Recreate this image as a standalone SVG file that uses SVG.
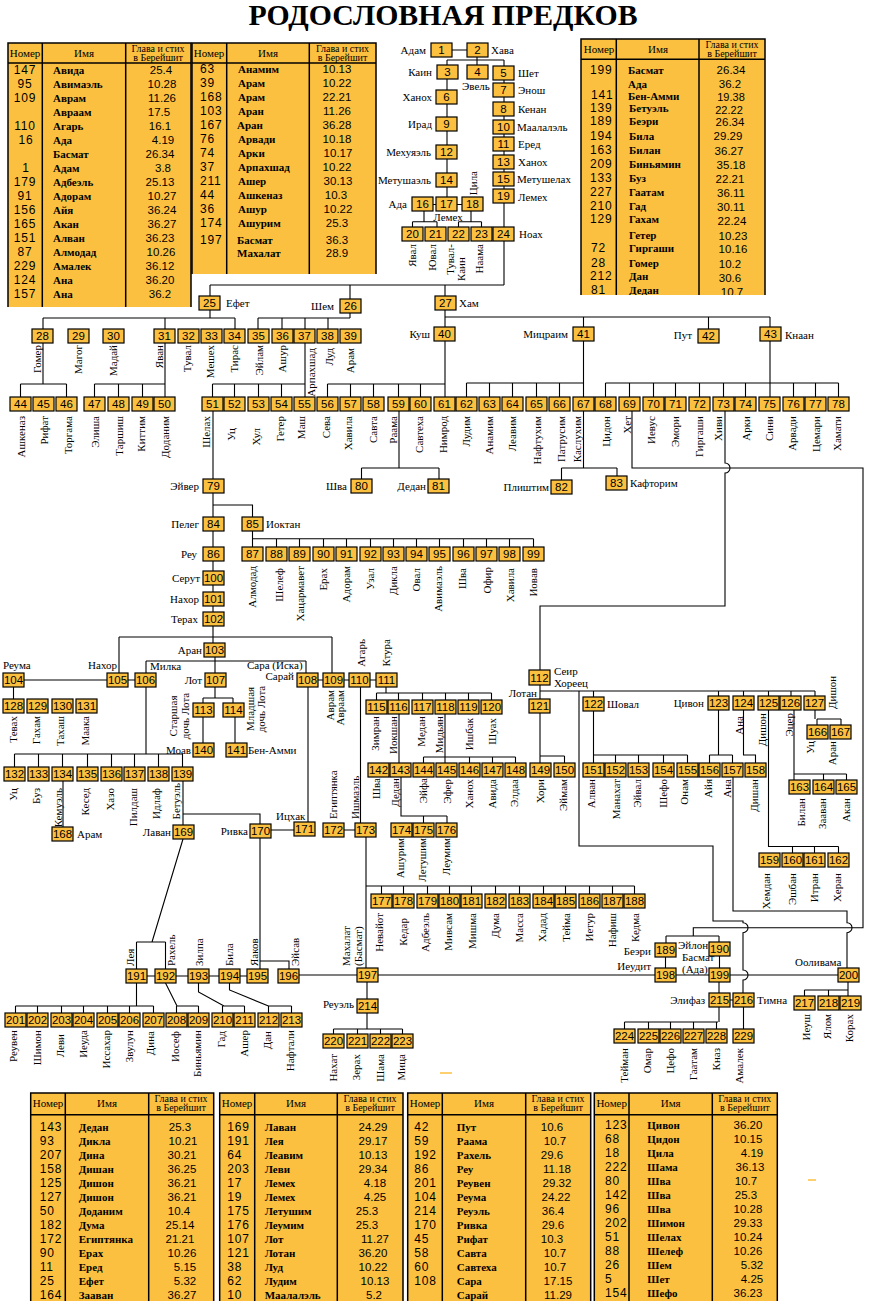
<svg xmlns="http://www.w3.org/2000/svg" width="874" height="1301" viewBox="0 0 874 1301">
<style>
.b{fill:#FBC040;stroke:#000;stroke-width:1.2}
.n{font-family:"Liberation Sans",Arial,sans-serif;font-size:11.5px;text-anchor:middle}
.l{font-family:"Liberation Serif","Times New Roman",serif;font-size:11px}
.r{text-anchor:end}
.m{text-anchor:middle}
#connectors path{fill:none;stroke:#000;stroke-width:1.1}
.tf{fill:#FBC040}
.tl{stroke:#000;stroke-width:1.5;fill:none}
.tn{font-family:"Liberation Sans",Arial,sans-serif;font-size:12px;letter-spacing:0.8px}
.tk{font-family:"Liberation Sans",Arial,sans-serif;font-size:12px;letter-spacing:0.8px;text-anchor:middle}
.tc{font-family:"Liberation Sans",Arial,sans-serif;font-size:11.5px;text-anchor:middle}
.tm{font-family:"Liberation Serif","Times New Roman",serif;font-size:11px;font-weight:bold}
.th{font-family:"Liberation Serif","Times New Roman",serif;font-size:11px;text-anchor:middle}
.th2{font-family:"Liberation Serif","Times New Roman",serif;font-size:10px;text-anchor:middle}
</style>
<defs><clipPath id="trc"><rect x="579" y="37" width="190" height="258"/></clipPath></defs>
<rect width="874" height="1301" fill="#fff"/>
<text x="443" y="25" font-family="Liberation Serif,serif" font-weight="bold" font-size="29" text-anchor="middle" textLength="389" lengthAdjust="spacingAndGlyphs">РОДОСЛОВНАЯ ПРЕДКОВ</text>

<g id="table-tl1">
<rect class="tf" x="8" y="43" width="183" height="264"/>
<path class="tl" d="M8,307V43H191V307M42.3,43V307M125.7,43V307M8,63H191"/>
<text class="th" x="25" y="57">Номер</text><text class="th" x="84" y="57">Имя</text><text class="th2" x="158" y="52">Глава и стих</text><text class="th2" x="158" y="61">в Берейшит</text>
<g class="tk"><text x="25" y="74">147</text><text x="25" y="88">95</text><text x="25" y="102">109</text><text x="25" y="130">110</text><text x="26" y="144">16</text><text x="26" y="172">1</text><text x="25" y="186">179</text><text x="25" y="200">91</text><text x="25" y="214">156</text><text x="25" y="228">165</text><text x="25" y="242">151</text><text x="25" y="256">87</text><text x="25" y="270">229</text><text x="25" y="284">124</text><text x="25" y="298">157</text></g>
<g class="tm"><text x="53" y="74">Авида</text><text x="53" y="88">Авимаэль</text><text x="53" y="102">Аврам</text><text x="53" y="116">Авраам</text><text x="53" y="130">Агарь</text><text x="53" y="144">Ада</text><text x="53" y="158">Басмат</text><text x="53" y="172">Адам</text><text x="53" y="186">Адбеэль</text><text x="53" y="200">Адорам</text><text x="53" y="214">Айя</text><text x="53" y="228">Акан</text><text x="53" y="242">Алван</text><text x="53" y="256">Алмодад</text><text x="53" y="270">Амалек</text><text x="53" y="284">Ана</text><text x="53" y="298">Ана</text></g>
<g class="tc"><text x="161" y="74">25.4</text><text x="162" y="88">10.28</text><text x="162" y="102">11.26</text><text x="159" y="116">17.5</text><text x="160" y="130">16.1</text><text x="163" y="144">4.19</text><text x="160" y="158">26.34</text><text x="163" y="172">3.8</text><text x="160" y="186">25.13</text><text x="162" y="200">10.27</text><text x="162" y="214">36.24</text><text x="162" y="228">36.27</text><text x="160" y="242">36.23</text><text x="161" y="256">10.26</text><text x="160" y="270">36.12</text><text x="160" y="284">36.20</text><text x="160" y="298">36.2</text></g>
</g>

<g id="table-tl2">
<rect class="tf" x="192" y="43" width="184" height="231"/>
<path class="tl" d="M192,274V43H376V274M226.7,43V274M309.3,43V274M192,63H376"/>
<text class="th" x="209" y="57">Номер</text><text class="th" x="268" y="57">Имя</text><text class="th2" x="342.5" y="52">Глава и стих</text><text class="th2" x="342.5" y="61">в Берейшит</text>
<g class="tn"><text x="200" y="73">63</text><text x="200" y="87">39</text><text x="200" y="101">168</text><text x="200" y="115">103</text><text x="200" y="129">167</text><text x="200" y="143">76</text><text x="200" y="157">74</text><text x="200" y="171">37</text><text x="200" y="185">211</text><text x="200" y="199">44</text><text x="200" y="213">36</text><text x="200" y="227">174</text><text x="200" y="244">197</text></g>
<g class="tm"><text x="238" y="73">Анамим</text><text x="238" y="87">Арам</text><text x="238" y="101">Арам</text><text x="238" y="115">Аран</text><text x="237" y="129">Аран</text><text x="238" y="143">Арвади</text><text x="238" y="157">Арки</text><text x="238" y="171">Арпахшад</text><text x="238" y="185">Ашер</text><text x="238" y="199">Ашкеназ</text><text x="238" y="213">Ашур</text><text x="238" y="227">Ашурим</text><text x="237" y="244">Басмат</text><text x="237" y="257">Махалат</text></g>
<g class="tc"><text x="337" y="73">10.13</text><text x="337" y="87">10.22</text><text x="337" y="101">22.21</text><text x="337" y="115">11.26</text><text x="337" y="129">36.28</text><text x="337" y="143">10.18</text><text x="338" y="157">10.17</text><text x="337" y="171">10.22</text><text x="338" y="185">30.13</text><text x="336" y="199">10.3</text><text x="338" y="213">10.22</text><text x="337" y="227">25.3</text><text x="337" y="244">36.3</text><text x="337" y="257">28.9</text></g>
</g>

<g id="table-tr">
<rect class="tf" x="581" y="39" width="184" height="256"/>
<path class="tl" d="M581,295V39H765V295M616.3,39V295M699,39V295M581,59.3H765"/>
<text class="th" x="599" y="53">Номер</text><text class="th" x="658" y="53">Имя</text><text class="th2" x="732" y="48">Глава и стих</text><text class="th2" x="732" y="57">в Берейшит</text>
<g clip-path="url(#trc)">
<g class="tn"><text x="590" y="73.5">199</text><text x="591" y="99">141</text><text x="590" y="111.5">139</text><text x="590" y="125">189</text><text x="590" y="139.5">194</text><text x="590" y="154">163</text><text x="590" y="168">209</text><text x="590" y="182">133</text><text x="590" y="196">227</text><text x="590" y="210">210</text><text x="590" y="223">129</text><text x="591" y="252">72</text><text x="591" y="267">28</text><text x="590" y="280">212</text><text x="591" y="294">81</text></g>
<g class="tm"><text x="628" y="73.5">Басмат</text><text x="628" y="87.5">Ада</text><text x="628" y="100">Бен-Амми</text><text x="629" y="111.5">Бетуэль</text><text x="629" y="125">Беэри</text><text x="629" y="139.5">Била</text><text x="629" y="154">Билан</text><text x="629" y="168">Биньямин</text><text x="629" y="182">Буз</text><text x="629" y="196">Гаатам</text><text x="629" y="210">Гад</text><text x="629" y="223">Гахам</text><text x="629" y="239">Гетер</text><text x="629" y="252">Гиргаши</text><text x="629" y="267">Гомер</text><text x="629" y="280">Дан</text><text x="629" y="294">Дедан</text></g>
<g class="tc"><text x="731" y="74">26.34</text><text x="730" y="88">36.2</text><text x="731" y="101" font-size="11">19.38</text><text x="729" y="113.5" font-size="11">22.22</text><text x="730" y="126">26.34</text><text x="728" y="140">29.29</text><text x="729" y="155">36.27</text><text x="731" y="169">35.18</text><text x="730" y="183">22.21</text><text x="731" y="197">36.11</text><text x="731" y="211">30.11</text><text x="732" y="225">22.24</text><text x="733" y="240">10.23</text><text x="733" y="253">10.16</text><text x="730" y="268">10.2</text><text x="730" y="282">30.6</text><text x="732" y="296">10.7</text></g>
</g>
</g>

<g id="table-b1">
<rect class="tf" x="30.7" y="1093" width="183" height="208"/>
<path class="tl" d="M30.7,1301V1093H213.7V1301M65.3,1093V1301M148.7,1093V1301M30.7,1114.7H213.7"/>
<text class="th" x="48" y="1107">Номер</text><text class="th" x="107" y="1107">Имя</text><text class="th2" x="181" y="1102">Глава и стих</text><text class="th2" x="181" y="1111">в Берейшит</text>
<g class="tn"><text x="39.7" y="1131">143</text><text x="39.7" y="1145">93</text><text x="39.7" y="1159">207</text><text x="39.7" y="1173">158</text><text x="39.7" y="1187">125</text><text x="39.7" y="1201">127</text><text x="39.7" y="1215">50</text><text x="39.7" y="1229">182</text><text x="39.7" y="1243">172</text><text x="39.7" y="1257">90</text><text x="39.7" y="1271">11</text><text x="39.7" y="1285">25</text><text x="39.7" y="1299">164</text></g>
<g class="tm"><text x="78.7" y="1131">Дедан</text><text x="78.7" y="1145">Дикла</text><text x="78.7" y="1159">Дина</text><text x="78.7" y="1173">Дишан</text><text x="78.7" y="1187">Дишон</text><text x="78.7" y="1201">Дишон</text><text x="78.7" y="1215">Доданим</text><text x="78.7" y="1229">Дума</text><text x="78.7" y="1243">Египтянка</text><text x="78.7" y="1257">Ерах</text><text x="78.7" y="1271">Еред</text><text x="78.7" y="1285">Ефет</text><text x="78.7" y="1299">Зааван</text></g>
<g class="tc"><text x="180" y="1131">25.3</text><text x="183" y="1145">10.21</text><text x="182" y="1159">30.21</text><text x="182" y="1173">36.25</text><text x="182" y="1187">36.21</text><text x="182" y="1201">36.21</text><text x="179" y="1215">10.4</text><text x="180" y="1229">25.14</text><text x="180" y="1243">21.21</text><text x="182" y="1257">10.26</text><text x="185" y="1271">5.15</text><text x="185" y="1285">5.32</text><text x="182" y="1299">36.27</text></g>
</g>

<g id="table-b2">
<rect class="tf" x="219.7" y="1093" width="183.3" height="208"/>
<path class="tl" d="M219.7,1301V1093H403V1301M254.7,1093V1301M337.3,1093V1301M219.7,1114.7H403"/>
<text class="th" x="237" y="1107">Номер</text><text class="th" x="296" y="1107">Имя</text><text class="th2" x="370" y="1102">Глава и стих</text><text class="th2" x="370" y="1111">в Берейшит</text>
<g class="tn"><text x="227.3" y="1131">169</text><text x="227.3" y="1145">191</text><text x="227.3" y="1159">64</text><text x="227.3" y="1173">203</text><text x="227.3" y="1187">17</text><text x="227.3" y="1201">19</text><text x="227.3" y="1215">175</text><text x="227.3" y="1229">176</text><text x="227.3" y="1243">107</text><text x="227.3" y="1257">121</text><text x="227.3" y="1271">38</text><text x="227.3" y="1285">62</text><text x="227.3" y="1299">10</text></g>
<g class="tm"><text x="264.7" y="1131">Лаван</text><text x="264.7" y="1145">Лея</text><text x="264.7" y="1159">Леавим</text><text x="264.7" y="1173">Леви</text><text x="264.7" y="1187">Лемех</text><text x="264.7" y="1201">Лемех</text><text x="264.7" y="1215">Летушим</text><text x="264.7" y="1229">Леумим</text><text x="264.7" y="1243">Лот</text><text x="264.7" y="1257">Лотан</text><text x="264.7" y="1271">Луд</text><text x="264.7" y="1285">Лудим</text><text x="264.7" y="1299">Маалалэль</text></g>
<g class="tc"><text x="373" y="1131">24.29</text><text x="373" y="1145">29.17</text><text x="373" y="1159">10.13</text><text x="373" y="1173">29.34</text><text x="375" y="1187">4.18</text><text x="375" y="1201">4.25</text><text x="367" y="1215">25.3</text><text x="367" y="1229">25.3</text><text x="375" y="1243">11.27</text><text x="373" y="1257">36.20</text><text x="373" y="1271">10.22</text><text x="375" y="1285">10.13</text><text x="374" y="1299">5.2</text></g>
</g>

<g id="table-b3">
<rect class="tf" x="407.7" y="1093" width="183" height="208"/>
<path class="tl" d="M407.7,1301V1093H590.7V1301M442.3,1093V1301M525.7,1093V1301M407.7,1114.7H590.7"/>
<text class="th" x="425" y="1107">Номер</text><text class="th" x="484" y="1107">Имя</text><text class="th2" x="558" y="1102">Глава и стих</text><text class="th2" x="558" y="1111">в Берейшит</text>
<g class="tn"><text x="414.3" y="1131">42</text><text x="414.3" y="1145">59</text><text x="414.3" y="1159">192</text><text x="414.3" y="1173">86</text><text x="414.3" y="1187">201</text><text x="414.3" y="1201">104</text><text x="414.3" y="1215">214</text><text x="414.3" y="1229">170</text><text x="414.3" y="1243">45</text><text x="414.3" y="1257">58</text><text x="414.3" y="1271">60</text><text x="414.3" y="1285">108</text></g>
<g class="tm"><text x="456.7" y="1131">Пут</text><text x="456.7" y="1145">Раама</text><text x="456.7" y="1159">Рахель</text><text x="456.7" y="1173">Реу</text><text x="456.7" y="1187">Реувен</text><text x="456.7" y="1201">Реума</text><text x="456.7" y="1215">Реуэль</text><text x="456.7" y="1229">Ривка</text><text x="456.7" y="1243">Рифат</text><text x="456.7" y="1257">Савта</text><text x="456.7" y="1271">Савтеха</text><text x="456.7" y="1285">Сара</text><text x="456.7" y="1299">Сарай</text></g>
<g class="tc"><text x="552" y="1131">10.6</text><text x="555" y="1145">10.7</text><text x="552" y="1159">29.6</text><text x="557" y="1173">11.18</text><text x="557" y="1187">29.32</text><text x="556" y="1201">24.22</text><text x="553" y="1215">36.4</text><text x="553" y="1229">29.6</text><text x="552" y="1243">10.3</text><text x="555" y="1257">10.7</text><text x="555" y="1271">10.7</text><text x="558" y="1285">17.15</text><text x="558" y="1299">11.29</text></g>
</g>

<g id="table-b4">
<rect class="tf" x="594.3" y="1093" width="183" height="208"/>
<path class="tl" d="M594.3,1301V1093H777.3V1301M629,1093V1301M712.3,1093V1301M594.3,1114.7H777.3"/>
<text class="th" x="611.7" y="1107">Номер</text><text class="th" x="670.7" y="1107">Имя</text><text class="th2" x="744.8" y="1102">Глава и стих</text><text class="th2" x="744.8" y="1111">в Берейшит</text>
<g class="tn"><text x="605" y="1129">123</text><text x="605" y="1143">68</text><text x="605" y="1157">18</text><text x="605" y="1171">222</text><text x="605" y="1185">80</text><text x="605" y="1199">142</text><text x="605" y="1213">96</text><text x="605" y="1227">202</text><text x="605" y="1241">51</text><text x="605" y="1255">88</text><text x="605" y="1269">26</text><text x="605" y="1283">5</text><text x="605" y="1297">154</text></g>
<g class="tm"><text x="647.3" y="1129">Цивон</text><text x="647.3" y="1143">Цидон</text><text x="647.3" y="1157">Цила</text><text x="647.3" y="1171">Шама</text><text x="647.3" y="1185">Шва</text><text x="647.3" y="1199">Шва</text><text x="647.3" y="1213">Шва</text><text x="647.3" y="1227">Шимон</text><text x="647.3" y="1241">Шелах</text><text x="647.3" y="1255">Шелеф</text><text x="647.3" y="1269">Шем</text><text x="647.3" y="1283">Шет</text><text x="647.3" y="1297">Шефо</text></g>
<g class="tc"><text x="748" y="1129">36.20</text><text x="748" y="1143">10.15</text><text x="752" y="1157">4.19</text><text x="750" y="1171">36.13</text><text x="746" y="1185">10.7</text><text x="746" y="1199">25.3</text><text x="748" y="1213">10.28</text><text x="748" y="1227">29.33</text><text x="748" y="1241">10.24</text><text x="748" y="1255">10.26</text><text x="752" y="1269">5.32</text><text x="752" y="1283">4.25</text><text x="748" y="1297">36.23</text></g>
</g>
<path d="M440,1073H452M808,1180H816" stroke="#FBC040" stroke-width="1.5"/>

<g id="connectors">
<path d="M452,50H467M477,57V60M447,60H504M447,60V65M477,60V65M447,79V197M504,60V227M432,204.5H462M424,211V221.7M412.5,221.7H437M412.5,221.7V227M437,221.7V227M471,211V221.7M458.5,221.7H481.5M458.5,221.7V227M481.5,221.7V227M504,241V285M210,285H504M210,285V296M350,285V299M445,285V397"/>
<path d="M210,310V318M43,318H235M43,318V329M165,318V329M235,318V329M350,313V318M258,318H350M258,318V329M282,318V329M305,318V329M328,318V329M445,317H770M583.5,317V327M708.5,317V329M770,317V327"/>
<path d="M43,343V384M20.5,384H66.5M20.5,384V397M66.5,384V397M165,343V397M94.5,384H165M94.5,384V397M118.5,384V397M142.5,384V397M305,343V397M212.5,384H305M212.5,384V397M234.5,384V397M258.5,384V397M281.5,384V397M327.5,384H445M327.5,384V397M350.5,384V397M373.5,384V397M398.5,384V397M420.5,384V397"/>
<path d="M583.5,341V397M466.5,383H583.5M466.5,383V397M489.5,383V397M512.5,383V397M536.5,383V397M559.5,383V397M770,341V397M605.5,383H838.5M605.5,383V397M629.5,383V397M653.5,383V397M675.5,383V397M699.5,383V397M723.5,383V397M745.5,383V397M793.5,383V397M815.5,383V397M838.5,383V397"/>
<path d="M213,411V479M399,411V468M361.5,468H439M361.5,468V479M439,468V479M583.5,411V468M561.5,468H617M561.5,468V480M617,468V476"/>
<path d="M632,411V468H863V927.7H693.3V936M666,936H719M666,936V943M719,936V942"/>
<path d="M725,411V463A5,5 0 0 1 725,473V606H540V670"/>
<path d="M213,493V612M213,505H252.5V547M252.5,538.7H533.5M276.5,538.7V547M299.5,538.7V547M323.5,538.7V547M346.5,538.7V547M370.5,538.7V547M393.5,538.7V547M416.5,538.7V547M439.5,538.7V547M463.5,538.7V547M486.5,538.7V547M509.5,538.7V547M533.5,538.7V547"/>
<path d="M213,626V643M119,637H332M119,637V673M332,637V673M215,657V673M146,661H306M146,661V673M306,661V673M24,680H107M128,680H135M318,680H323M344,680H349M370,680H376M13.5,687V699M215,687V698M203,698H233M203,698V703M233,698V703M203,717V743M235,717V743"/>
<path d="M146,687V754M14.5,754H182.5M14.5,754V767M38.5,754V767M62.5,754V767M87.5,754V767M111.5,754V767M134.5,754V767M158.5,754V767M182.5,754V767M63,781V827M183,781V825M183,814H260V824M271,830H294M308,687V822M360.5,687V823M344,830H355"/>
<path d="M366,837V968M366,886H634.5M381.5,886V894M403.5,886V894M427.5,886V894M449.5,886V894M471.5,886V894M495.5,886V894M519.5,886V894M543.5,886V894M565.5,886V894M589.5,886V894M612.5,886V894M634.5,886V894"/>
<path d="M386,687V693M376.5,693H491.5M376.5,693V700M398.5,693V700M422.5,693V700M445.5,693V700M468.5,693V700M491.5,693V700M399,714V763M401,777V816H447M423.5,816V823M447,816V823M445,714V763M423.5,757H515.5M423.5,757V763M469.5,757V763M492.5,757V763M515.5,757V763"/>
<path d="M540,685V699M540,691H815M593.5,691V697M718.5,691V696M743.5,691V696M768.5,691V696M791,691V696M815,691V696"/>
<path d="M579,691V846H713V921H743V922.7A5,5 0 0 1 743,932.7V970A5,5 0 0 1 743,980V993"/>
<path d="M540,713V756H564.5M540,756V763M564.5,756V763M593.5,711V755H687.5M593.5,755V763M615.5,755V763M638.5,755V763M663.5,755V763M687.5,755V763M718.5,710V755M709.5,755H732.5M709.5,755V763M732.5,755V763M743.5,710V755H755.5V763"/>
<path d="M733,777V911H847V922.7A5,5 0 0 1 847,932.7V968"/>
<path d="M768.5,710V846.5H838.5M792.5,846.5V853M814.5,846.5V853M838.5,846.5V853M794,710V780M794,774H846.5M823.5,774V780M846.5,774V780M815,710V719M817,719H841M817,719V725M841,719V725"/>
<path d="M183,839L152,942M136.5,942H165.5M136.5,942V969M165.5,942V969M147,976H155M176,976H188M209,976H219M240,976H247M299,975H357M260,838V969M260,961H289V969"/>
<path d="M136.5,983V1006M15.5,1006H153.5M15.5,1006V1013M37.5,1006V1013M61.5,1006V1013M83.5,1006V1013M107.5,1006V1013M129.5,1006V1013M153.5,1006V1013M165.5,983L177,1006M176.5,1006H198.5M176.5,1006V1013M198.5,1006V1013M198.5,983V992L224,1006M222.5,1006H244.5M222.5,1006V1013M244.5,1006V1013M229.5,983V990L268.5,1006M268.5,1006H291.5M268.5,1006V1013M291.5,1006V1013"/>
<path d="M367,982V999M367,1013V1029M333.5,1029H402.5M333.5,1029V1034M357.5,1029V1034M380.5,1029V1034M402.5,1029V1034"/>
<path d="M378,975H655M676,975H709M730,975H838M665.5,957V968M719.5,956V968M719,982V993M730,1000H733M719,1007V1022M624.5,1022H718M624.5,1022V1029M648.5,1022V1029M670.5,1022V1029M693.5,1022V1029M716.5,1022V1029M743.5,1007V1029M848,982V996M804.5,990H848M804.5,990V996M828.5,990V996"/>
</g>

<g id="n1"><rect class="b" x="431" y="43" width="21" height="14"/><text class="n" x="441.5" y="54">1</text><text class="l r" x="426" y="54">Адам</text></g>
<g id="n2"><rect class="b" x="467" y="43" width="21" height="14"/><text class="n" x="477.5" y="54">2</text><text class="l" x="491" y="54">Хава</text></g>
<g id="n3"><rect class="b" x="437" y="65" width="21" height="14"/><text class="n" x="447.5" y="76">3</text><text class="l r" x="432" y="76">Каин</text></g>
<g id="n4"><rect class="b" x="467" y="65" width="21" height="14"/><text class="n" x="477.5" y="76">4</text><text class="l" x="462" y="90">Эвель</text></g>
<g id="n5"><rect class="b" x="493" y="66" width="21" height="14"/><text class="n" x="503.5" y="77">5</text><text class="l" x="518" y="77">Шет</text></g>
<g id="n6"><rect class="b" x="436" y="90" width="21" height="14"/><text class="n" x="446.5" y="101">6</text><text class="l r" x="432" y="101">Ханох</text></g>
<g id="n7"><rect class="b" x="493" y="83" width="21" height="14"/><text class="n" x="503.5" y="94">7</text><text class="l" x="518" y="94">Энош</text></g>
<g id="n8"><rect class="b" x="493" y="102" width="21" height="14"/><text class="n" x="503.5" y="113">8</text><text class="l" x="518" y="113">Кенан</text></g>
<g id="n9"><rect class="b" x="436" y="117" width="21" height="14"/><text class="n" x="446.5" y="128">9</text><text class="l r" x="432" y="128">Ирад</text></g>
<g id="n10"><rect class="b" x="493" y="120" width="21" height="14"/><text class="n" x="503.5" y="131">10</text><text class="l" x="517" y="131">Маалалэль</text></g>
<g id="n11"><rect class="b" x="493" y="137" width="21" height="14"/><text class="n" x="503.5" y="148">11</text><text class="l" x="518" y="148">Еред</text></g>
<g id="n12"><rect class="b" x="436" y="145" width="21" height="14"/><text class="n" x="446.5" y="156">12</text><text class="l r" x="431" y="156">Мехуяэль</text></g>
<g id="n13"><rect class="b" x="493" y="155" width="21" height="14"/><text class="n" x="503.5" y="166">13</text><text class="l" x="518" y="166">Ханох</text></g>
<g id="n14"><rect class="b" x="436" y="173" width="21" height="14"/><text class="n" x="446.5" y="184">14</text><text class="l r" x="431" y="184">Метушаэль</text></g>
<g id="n15"><rect class="b" x="493" y="172" width="21" height="14"/><text class="n" x="503.5" y="183">15</text><text class="l" x="517" y="183">Метушелах</text></g>
<g id="n16"><rect class="b" x="412" y="197" width="21" height="14"/><text class="n" x="422.5" y="208">16</text><text class="l r" x="407" y="208">Ада</text></g>
<g id="n17"><rect class="b" x="436" y="197" width="21" height="14"/><text class="n" x="446.5" y="208">17</text><text class="l m" x="448" y="221">Лемех</text></g>
<g id="n18"><rect class="b" x="462" y="197" width="21" height="14"/><text class="n" x="472.5" y="208">18</text><text class="l r" transform="translate(476.5,171) rotate(-90)">Цила</text></g>
<g id="n19"><rect class="b" x="493" y="189" width="21" height="14"/><text class="n" x="503.5" y="200">19</text><text class="l" x="518" y="201">Лемех</text></g>
<g id="n20"><rect class="b" x="402" y="227" width="21" height="14"/><text class="n" x="412.5" y="238">20</text><text class="l r" transform="translate(415.5,244) rotate(-90)">Явал</text></g>
<g id="n21"><rect class="b" x="425" y="227" width="21" height="14"/><text class="n" x="435.5" y="238">21</text><text class="l r" transform="translate(435.5,244) rotate(-90)">Ювал</text></g>
<g id="n22"><rect class="b" x="448" y="227" width="21" height="14"/><text class="n" x="458.5" y="238">22</text><text class="l r" transform="translate(453.5,244) rotate(-90)">Тувал-</text><text class="l" transform="translate(465,281) rotate(-90)">Каин</text></g>
<g id="n23"><rect class="b" x="471" y="227" width="21" height="14"/><text class="n" x="481.5" y="238">23</text><text class="l r" transform="translate(483,244) rotate(-90)">Наама</text></g>
<g id="n24"><rect class="b" x="493" y="227" width="21" height="14"/><text class="n" x="503.5" y="238">24</text><text class="l" x="519" y="238">Ноах</text></g>
<g id="n25"><rect class="b" x="199" y="296" width="21" height="14"/><text class="n" x="209.5" y="307">25</text><text class="l" x="226" y="307">Ефет</text></g>
<g id="n26"><rect class="b" x="340" y="299" width="21" height="14"/><text class="n" x="350.5" y="310">26</text><text class="l r" x="334" y="310">Шем</text></g>
<g id="n27"><rect class="b" x="435" y="296" width="21" height="14"/><text class="n" x="445.5" y="307">27</text><text class="l" x="459" y="307">Хам</text></g>
<g id="n28"><rect class="b" x="32" y="329" width="21" height="14"/><text class="n" x="42.5" y="340">28</text><text class="l r" transform="translate(40.5,345) rotate(-90)">Гомер</text></g>
<g id="n29"><rect class="b" x="68" y="329" width="21" height="14"/><text class="n" x="78.5" y="340">29</text><text class="l r" transform="translate(81.5,345) rotate(-90)">Магог</text></g>
<g id="n30"><rect class="b" x="103" y="329" width="21" height="14"/><text class="n" x="113.5" y="340">30</text><text class="l r" transform="translate(116.5,345) rotate(-90)">Мадай</text></g>
<g id="n31"><rect class="b" x="154" y="329" width="21" height="14"/><text class="n" x="164.5" y="340">31</text><text class="l r" transform="translate(162.5,345) rotate(-90)">Яван</text></g>
<g id="n32"><rect class="b" x="178" y="329" width="21" height="14"/><text class="n" x="188.5" y="340">32</text><text class="l r" transform="translate(190.5,345) rotate(-90)">Тувал</text></g>
<g id="n33"><rect class="b" x="201" y="329" width="21" height="14"/><text class="n" x="211.5" y="340">33</text><text class="l r" transform="translate(214,345) rotate(-90)">Мешех</text></g>
<g id="n34"><rect class="b" x="224" y="329" width="21" height="14"/><text class="n" x="234.5" y="340">34</text><text class="l r" transform="translate(237.5,345) rotate(-90)">Тирас</text></g>
<g id="n35"><rect class="b" x="248" y="329" width="21" height="14"/><text class="n" x="258.5" y="340">35</text><text class="l r" transform="translate(262.5,345) rotate(-90)">Эйлам</text></g>
<g id="n36"><rect class="b" x="272" y="329" width="21" height="14"/><text class="n" x="282.5" y="340">36</text><text class="l r" transform="translate(285.5,345) rotate(-90)">Ашур</text></g>
<g id="n37"><rect class="b" x="294" y="329" width="21" height="14"/><text class="n" x="304.5" y="340">37</text><text class="l r" transform="translate(314.5,348) rotate(-90)">Арпахшад</text></g>
<g id="n38"><rect class="b" x="317" y="329" width="21" height="14"/><text class="n" x="327.5" y="340">38</text><text class="l r" transform="translate(333,348) rotate(-90)">Луд</text></g>
<g id="n39"><rect class="b" x="340" y="329" width="21" height="14"/><text class="n" x="350.5" y="340">39</text><text class="l r" transform="translate(353.5,348) rotate(-90)">Арам</text></g>
<g id="n40"><rect class="b" x="434" y="327" width="21" height="14"/><text class="n" x="444.5" y="338">40</text><text class="l r" x="430" y="338">Куш</text></g>
<g id="n41"><rect class="b" x="573" y="327" width="21" height="14"/><text class="n" x="583.5" y="338">41</text><text class="l r" x="568" y="338">Мицраим</text></g>
<g id="n42"><rect class="b" x="698" y="329" width="21" height="14"/><text class="n" x="708.5" y="340">42</text><text class="l r" x="692" y="339">Пут</text></g>
<g id="n43"><rect class="b" x="760" y="327" width="21" height="14"/><text class="n" x="770.5" y="338">43</text><text class="l" x="785" y="339">Кнаан</text></g>

<g id="n44"><rect class="b" x="10" y="397" width="21" height="14"/><text class="n" x="20.5" y="408">44</text><text class="l r" transform="translate(25,416) rotate(-90)">Ашкеназ</text></g>
<g id="n45"><rect class="b" x="33" y="397" width="21" height="14"/><text class="n" x="43.5" y="408">45</text><text class="l r" transform="translate(48,416) rotate(-90)">Рифат</text></g>
<g id="n46"><rect class="b" x="56" y="397" width="21" height="14"/><text class="n" x="66.5" y="408">46</text><text class="l r" transform="translate(72,416) rotate(-90)">Торгама</text></g>
<g id="n47"><rect class="b" x="84" y="397" width="21" height="14"/><text class="n" x="94.5" y="408">47</text><text class="l r" transform="translate(99,416) rotate(-90)">Элиша</text></g>
<g id="n48"><rect class="b" x="108" y="397" width="21" height="14"/><text class="n" x="118.5" y="408">48</text><text class="l r" transform="translate(122.5,416) rotate(-90)">Таршиш</text></g>
<g id="n49"><rect class="b" x="132" y="397" width="21" height="14"/><text class="n" x="142.5" y="408">49</text><text class="l r" transform="translate(145,416) rotate(-90)">Киттим</text></g>
<g id="n50"><rect class="b" x="154" y="397" width="21" height="14"/><text class="n" x="164.5" y="408">50</text><text class="l r" transform="translate(169,416) rotate(-90)">Доданим</text></g>
<g id="n51"><rect class="b" x="202" y="397" width="21" height="14"/><text class="n" x="212.5" y="408">51</text><text class="l r" transform="translate(210,416) rotate(-90)">Шелах</text></g>
<g id="n52"><rect class="b" x="224" y="397" width="21" height="14"/><text class="n" x="234.5" y="408">52</text><text class="l r" transform="translate(235,428) rotate(-90)">Уц</text></g>
<g id="n53"><rect class="b" x="248" y="397" width="21" height="14"/><text class="n" x="258.5" y="408">53</text><text class="l r" transform="translate(259.5,428) rotate(-90)">Хул</text></g>
<g id="n54"><rect class="b" x="271" y="397" width="21" height="14"/><text class="n" x="281.5" y="408">54</text><text class="l r" transform="translate(283.5,416) rotate(-90)">Гетер</text></g>
<g id="n55"><rect class="b" x="294" y="397" width="21" height="14"/><text class="n" x="304.5" y="408">55</text><text class="l r" transform="translate(305,416) rotate(-90)">Маш</text></g>
<g id="n56"><rect class="b" x="317" y="397" width="21" height="14"/><text class="n" x="327.5" y="408">56</text><text class="l r" transform="translate(330,416) rotate(-90)">Сева</text></g>
<g id="n57"><rect class="b" x="340" y="397" width="21" height="14"/><text class="n" x="350.5" y="408">57</text><text class="l r" transform="translate(352,416) rotate(-90)">Хавила</text></g>
<g id="n58"><rect class="b" x="363" y="397" width="21" height="14"/><text class="n" x="373.5" y="408">58</text><text class="l r" transform="translate(377,416) rotate(-90)">Савта</text></g>
<g id="n59"><rect class="b" x="388" y="397" width="21" height="14"/><text class="n" x="398.5" y="408">59</text><text class="l r" transform="translate(397,416) rotate(-90)">Раама</text></g>
<g id="n60"><rect class="b" x="410" y="397" width="21" height="14"/><text class="n" x="420.5" y="408">60</text><text class="l r" transform="translate(423,416) rotate(-90)">Савтеха</text></g>
<g id="n61"><rect class="b" x="434" y="397" width="21" height="14"/><text class="n" x="444.5" y="408">61</text><text class="l r" transform="translate(447,416) rotate(-90)">Нимрод</text></g>
<g id="n62"><rect class="b" x="456" y="397" width="21" height="14"/><text class="n" x="466.5" y="408">62</text><text class="l r" transform="translate(470,416) rotate(-90)">Лудим</text></g>
<g id="n63"><rect class="b" x="479" y="397" width="21" height="14"/><text class="n" x="489.5" y="408">63</text><text class="l r" transform="translate(493,416) rotate(-90)">Анамим</text></g>
<g id="n64"><rect class="b" x="502" y="397" width="21" height="14"/><text class="n" x="512.5" y="408">64</text><text class="l r" transform="translate(515.5,416) rotate(-90)">Леавим</text></g>
<g id="n65"><rect class="b" x="526" y="397" width="21" height="14"/><text class="n" x="536.5" y="408">65</text><text class="l r" transform="translate(541,416) rotate(-90)">Нафтухим</text></g>
<g id="n66"><rect class="b" x="549" y="397" width="21" height="14"/><text class="n" x="559.5" y="408">66</text><text class="l r" transform="translate(564.5,416) rotate(-90)">Патрусим</text></g>
<g id="n67"><rect class="b" x="573" y="397" width="21" height="14"/><text class="n" x="583.5" y="408">67</text><text class="l r" transform="translate(581,416) rotate(-90)">Каслухим</text></g>
<g id="n68"><rect class="b" x="595" y="397" width="21" height="14"/><text class="n" x="605.5" y="408">68</text><text class="l r" transform="translate(609.5,416) rotate(-90)">Цидон</text></g>
<g id="n69"><rect class="b" x="619" y="397" width="21" height="14"/><text class="n" x="629.5" y="408">69</text><text class="l r" transform="translate(631,416) rotate(-90)">Хет</text></g>
<g id="n70"><rect class="b" x="643" y="397" width="21" height="14"/><text class="n" x="653.5" y="408">70</text><text class="l r" transform="translate(654.5,416) rotate(-90)">Иевус</text></g>
<g id="n71"><rect class="b" x="665" y="397" width="21" height="14"/><text class="n" x="675.5" y="408">71</text><text class="l r" transform="translate(679,416) rotate(-90)">Эмори</text></g>
<g id="n72"><rect class="b" x="689" y="397" width="21" height="14"/><text class="n" x="699.5" y="408">72</text><text class="l r" transform="translate(703,416) rotate(-90)">Гиргаши</text></g>
<g id="n73"><rect class="b" x="713" y="397" width="21" height="14"/><text class="n" x="723.5" y="408">73</text><text class="l r" transform="translate(722,416) rotate(-90)">Хиви</text></g>
<g id="n74"><rect class="b" x="735" y="397" width="21" height="14"/><text class="n" x="745.5" y="408">74</text><text class="l r" transform="translate(749.5,416) rotate(-90)">Арки</text></g>
<g id="n75"><rect class="b" x="759" y="397" width="21" height="14"/><text class="n" x="769.5" y="408">75</text><text class="l r" transform="translate(773,416) rotate(-90)">Сини</text></g>
<g id="n76"><rect class="b" x="783" y="397" width="21" height="14"/><text class="n" x="793.5" y="408">76</text><text class="l r" transform="translate(796,416) rotate(-90)">Арвади</text></g>
<g id="n77"><rect class="b" x="805" y="397" width="21" height="14"/><text class="n" x="815.5" y="408">77</text><text class="l r" transform="translate(819.5,416) rotate(-90)">Цемари</text></g>
<g id="n78"><rect class="b" x="828" y="397" width="21" height="14"/><text class="n" x="838.5" y="408">78</text><text class="l r" transform="translate(841,416) rotate(-90)">Хамати</text></g>

<g id="n79"><rect class="b" x="203" y="479" width="21" height="14"/><text class="n" x="213.5" y="490">79</text><text class="l r" x="199" y="490">Эйвер</text></g>
<g id="n80"><rect class="b" x="351" y="479" width="21" height="14"/><text class="n" x="361.5" y="490">80</text><text class="l r" x="347" y="490">Шва</text></g>
<g id="n81"><rect class="b" x="428" y="479" width="21" height="14"/><text class="n" x="438.5" y="490">81</text><text class="l r" x="426" y="490">Дедан</text></g>
<g id="n82"><rect class="b" x="551" y="480" width="21" height="14"/><text class="n" x="561.5" y="491">82</text><text class="l r" x="549" y="491">Плиштим</text></g>
<g id="n83"><rect class="b" x="606" y="476" width="21" height="14"/><text class="n" x="616.5" y="487">83</text><text class="l" x="630" y="487">Кафторим</text></g>
<g id="n84"><rect class="b" x="203" y="517" width="21" height="14"/><text class="n" x="213.5" y="528">84</text><text class="l r" x="199" y="528">Пелег</text></g>
<g id="n85"><rect class="b" x="242" y="517" width="21" height="14"/><text class="n" x="252.5" y="528">85</text><text class="l" x="266" y="528">Иоктан</text></g>
<g id="n86"><rect class="b" x="203" y="547" width="21" height="14"/><text class="n" x="213.5" y="558">86</text><text class="l r" x="197" y="558">Реу</text></g>
<g id="n87"><rect class="b" x="242" y="547" width="21" height="14"/><text class="n" x="252.5" y="558">87</text><text class="l r" transform="translate(255.5,566) rotate(-90)">Алмодад</text></g>
<g id="n88"><rect class="b" x="266" y="547" width="21" height="14"/><text class="n" x="276.5" y="558">88</text><text class="l r" transform="translate(283,568) rotate(-90)">Шелеф</text></g>
<g id="n89"><rect class="b" x="289" y="547" width="21" height="14"/><text class="n" x="299.5" y="558">89</text><text class="l r" transform="translate(304,566) rotate(-90)">Хацармавет</text></g>
<g id="n90"><rect class="b" x="313" y="547" width="21" height="14"/><text class="n" x="323.5" y="558">90</text><text class="l r" transform="translate(327,568) rotate(-90)">Ерах</text></g>
<g id="n91"><rect class="b" x="336" y="547" width="21" height="14"/><text class="n" x="346.5" y="558">91</text><text class="l r" transform="translate(349.5,566) rotate(-90)">Адорам</text></g>
<g id="n92"><rect class="b" x="360" y="547" width="21" height="14"/><text class="n" x="370.5" y="558">92</text><text class="l r" transform="translate(373.5,568) rotate(-90)">Узал</text></g>
<g id="n93"><rect class="b" x="383" y="547" width="21" height="14"/><text class="n" x="393.5" y="558">93</text><text class="l r" transform="translate(396.5,566) rotate(-90)">Дикла</text></g>
<g id="n94"><rect class="b" x="406" y="547" width="21" height="14"/><text class="n" x="416.5" y="558">94</text><text class="l r" transform="translate(420,568) rotate(-90)">Овал</text></g>
<g id="n95"><rect class="b" x="429" y="547" width="21" height="14"/><text class="n" x="439.5" y="558">95</text><text class="l r" transform="translate(442,566) rotate(-90)">Авимаэль</text></g>
<g id="n96"><rect class="b" x="453" y="547" width="21" height="14"/><text class="n" x="463.5" y="558">96</text><text class="l r" transform="translate(466,568) rotate(-90)">Шва</text></g>
<g id="n97"><rect class="b" x="476" y="547" width="21" height="14"/><text class="n" x="486.5" y="558">97</text><text class="l r" transform="translate(490.5,567) rotate(-90)">Офир</text></g>
<g id="n98"><rect class="b" x="499" y="547" width="21" height="14"/><text class="n" x="509.5" y="558">98</text><text class="l r" transform="translate(513.5,568) rotate(-90)">Хавила</text></g>
<g id="n99"><rect class="b" x="523" y="547" width="21" height="14"/><text class="n" x="533.5" y="558">99</text><text class="l r" transform="translate(537,568) rotate(-90)">Иовав</text></g>
<g id="n100"><rect class="b" x="203" y="571" width="21" height="14"/><text class="n" x="213.5" y="582">100</text><text class="l r" x="200" y="582">Серут</text></g>
<g id="n101"><rect class="b" x="203" y="592" width="21" height="14"/><text class="n" x="213.5" y="603">101</text><text class="l r" x="199" y="603">Нахор</text></g>
<g id="n102"><rect class="b" x="203" y="612" width="21" height="14"/><text class="n" x="213.5" y="623">102</text><text class="l r" x="198" y="623">Терах</text></g>
<g id="n103"><rect class="b" x="204" y="643" width="21" height="14"/><text class="n" x="214.5" y="654">103</text><text class="l r" x="202" y="654">Аран</text></g>
<g id="n104"><rect class="b" x="3" y="673" width="21" height="14"/><text class="n" x="13.5" y="684">104</text><text class="l" x="3" y="669">Реума</text></g>
<g id="n105"><rect class="b" x="107" y="673" width="21" height="14"/><text class="n" x="117.5" y="684">105</text><text class="l r" x="117" y="669">Нахор</text></g>
<g id="n106"><rect class="b" x="135" y="673" width="21" height="14"/><text class="n" x="145.5" y="684">106</text><text class="l" x="150" y="670">Милка</text></g>
<g id="n107"><rect class="b" x="205" y="673" width="21" height="14"/><text class="n" x="215.5" y="684">107</text><text class="l r" x="202" y="684">Лот</text></g>
<g id="n108"><rect class="b" x="297" y="673" width="21" height="14"/><text class="n" x="307.5" y="684">108</text><text class="l" x="247" y="669">Сара (Иска)</text><text class="l r" x="294" y="680">Сарай</text></g>
<g id="n109"><rect class="b" x="323" y="673" width="21" height="14"/><text class="n" x="333.5" y="684">109</text><text class="l r" transform="translate(333.5,690) rotate(-90)">Аврам</text><text class="l r" transform="translate(344,690) rotate(-90)">Авраам</text></g>
<g id="n110"><rect class="b" x="349" y="673" width="21" height="14"/><text class="n" x="359.5" y="684">110</text><text class="l r" transform="translate(365,639) rotate(-90)">Агарь</text></g>
<g id="n111"><rect class="b" x="376" y="673" width="21" height="14"/><text class="n" x="386.5" y="684">111</text><text class="l r" transform="translate(390,639) rotate(-90)">Ктура</text></g>
<g id="n112"><rect class="b" x="529" y="670" width="21" height="15"/><text class="n" x="539.5" y="681.5">112</text><text class="l" x="554" y="675">Сеир</text><text class="l" x="554" y="687">Хореец</text></g>
<g id="n113"><rect class="b" x="193" y="703" width="21" height="14"/><text class="n" x="203.5" y="714">113</text><text class="l m" transform="translate(176.5,716) rotate(-90)">Старшая</text><text class="l m" transform="translate(188.5,716) rotate(-90)">дочь Лота</text></g>
<g id="n114"><rect class="b" x="223" y="703" width="21" height="14"/><text class="n" x="233.5" y="714">114</text><text class="l m" transform="translate(253.5,709) rotate(-90)">Младшая</text><text class="l m" transform="translate(265,709) rotate(-90)">дочь Лота</text></g>
<g id="n115"><rect class="b" x="366" y="700" width="21" height="14"/><text class="n" x="376.5" y="711">115</text><text class="l r" transform="translate(378.5,716) rotate(-90)">Зимран</text></g>
<g id="n116"><rect class="b" x="388" y="700" width="21" height="14"/><text class="n" x="398.5" y="711">116</text><text class="l r" transform="translate(396.5,716) rotate(-90)">Иокшан</text></g>
<g id="n117"><rect class="b" x="412" y="700" width="21" height="14"/><text class="n" x="422.5" y="711">117</text><text class="l r" transform="translate(424.5,716) rotate(-90)">Медан</text></g>
<g id="n118"><rect class="b" x="435" y="700" width="21" height="14"/><text class="n" x="445.5" y="711">118</text><text class="l r" transform="translate(442.5,716) rotate(-90)">Мидьян</text></g>
<g id="n119"><rect class="b" x="458" y="700" width="21" height="14"/><text class="n" x="468.5" y="711">119</text><text class="l r" transform="translate(473,718) rotate(-90)">Ишбак</text></g>
<g id="n120"><rect class="b" x="481" y="700" width="21" height="14"/><text class="n" x="491.5" y="711">120</text><text class="l r" transform="translate(496,718) rotate(-90)">Шуах</text></g>
<g id="n121"><rect class="b" x="529" y="699" width="21" height="14"/><text class="n" x="539.5" y="710">121</text><text class="l r" x="537" y="697">Лотан</text></g>
<g id="n122"><rect class="b" x="583" y="697" width="21" height="14"/><text class="n" x="593.5" y="708">122</text><text class="l" x="607" y="708">Шовал</text></g>
<g id="n123"><rect class="b" x="708" y="696" width="21" height="14"/><text class="n" x="718.5" y="707">123</text><text class="l r" x="704" y="707">Цивон</text></g>
<g id="n124"><rect class="b" x="733" y="696" width="21" height="14"/><text class="n" x="743.5" y="707">124</text><text class="l r" transform="translate(742.5,716) rotate(-90)">Ана</text></g>
<g id="n125"><rect class="b" x="758" y="696" width="21" height="14"/><text class="n" x="768.5" y="707">125</text><text class="l r" transform="translate(765.5,713) rotate(-90)">Дишон</text></g>
<g id="n126"><rect class="b" x="780" y="696" width="21" height="14"/><text class="n" x="790.5" y="707">126</text><text class="l r" transform="translate(792.5,713) rotate(-90)">Эцер</text></g>
<g id="n127"><rect class="b" x="804" y="696" width="21" height="14"/><text class="n" x="814.5" y="707">127</text><text class="l" transform="translate(836,709) rotate(-90)">Дишон</text></g>
<g id="n128"><rect class="b" x="3" y="699" width="21" height="14"/><text class="n" x="13.5" y="710">128</text><text class="l r" transform="translate(16.5,716) rotate(-90)">Тевах</text></g>
<g id="n129"><rect class="b" x="27" y="699" width="21" height="14"/><text class="n" x="37.5" y="710">129</text><text class="l r" transform="translate(40,716) rotate(-90)">Гахам</text></g>
<g id="n130"><rect class="b" x="52" y="699" width="21" height="14"/><text class="n" x="62.5" y="710">130</text><text class="l r" transform="translate(63.5,716) rotate(-90)">Тахаш</text></g>
<g id="n131"><rect class="b" x="76" y="699" width="21" height="14"/><text class="n" x="86.5" y="710">131</text><text class="l r" transform="translate(88.5,716) rotate(-90)">Маака</text></g>
<g id="n132"><rect class="b" x="4" y="767" width="21" height="14"/><text class="n" x="14.5" y="778">132</text><text class="l r" transform="translate(16.5,788) rotate(-90)">Уц</text></g>
<g id="n133"><rect class="b" x="28" y="767" width="21" height="14"/><text class="n" x="38.5" y="778">133</text><text class="l r" transform="translate(40,788) rotate(-90)">Буз</text></g>
<g id="n134"><rect class="b" x="52" y="767" width="21" height="14"/><text class="n" x="62.5" y="778">134</text><text class="l r" transform="translate(61.5,788) rotate(-90)">Кемуэль</text></g>
<g id="n135"><rect class="b" x="77" y="767" width="21" height="14"/><text class="n" x="87.5" y="778">135</text><text class="l r" transform="translate(88.5,788) rotate(-90)">Кесед</text></g>
<g id="n136"><rect class="b" x="101" y="767" width="21" height="14"/><text class="n" x="111.5" y="778">136</text><text class="l r" transform="translate(113.5,788) rotate(-90)">Хазо</text></g>
<g id="n137"><rect class="b" x="124" y="767" width="21" height="14"/><text class="n" x="134.5" y="778">137</text><text class="l r" transform="translate(136.5,788) rotate(-90)">Пилдаш</text></g>
<g id="n138"><rect class="b" x="148" y="767" width="21" height="14"/><text class="n" x="158.5" y="778">138</text><text class="l r" transform="translate(160,788) rotate(-90)">Идлаф</text></g>
<g id="n139"><rect class="b" x="172" y="767" width="21" height="14"/><text class="n" x="182.5" y="778">139</text><text class="l r" transform="translate(180,783) rotate(-90)">Бетуэль</text></g>
<g id="n140"><rect class="b" x="193" y="743" width="21" height="14"/><text class="n" x="203.5" y="754">140</text><text class="l r" x="191" y="754">Моав</text></g>
<g id="n141"><rect class="b" x="226" y="743" width="21" height="14"/><text class="n" x="236.5" y="754">141</text><text class="l" x="248" y="754">Бен-Амми</text></g>
<g id="n142"><rect class="b" x="368" y="763" width="21" height="14"/><text class="n" x="378.5" y="774">142</text><text class="l r" transform="translate(380,778) rotate(-90)">Шва</text></g>
<g id="n143"><rect class="b" x="390" y="763" width="21" height="14"/><text class="n" x="400.5" y="774">143</text><text class="l r" transform="translate(398.5,778) rotate(-90)">Дедан</text></g>
<g id="n144"><rect class="b" x="413" y="763" width="21" height="14"/><text class="n" x="423.5" y="774">144</text><text class="l r" transform="translate(426.5,778) rotate(-90)">Эйфа</text></g>
<g id="n145"><rect class="b" x="436" y="763" width="21" height="14"/><text class="n" x="446.5" y="774">145</text><text class="l r" transform="translate(451,779) rotate(-90)">Эфер</text></g>
<g id="n146"><rect class="b" x="459" y="763" width="21" height="14"/><text class="n" x="469.5" y="774">146</text><text class="l r" transform="translate(473,779) rotate(-90)">Ханох</text></g>
<g id="n147"><rect class="b" x="482" y="763" width="21" height="14"/><text class="n" x="492.5" y="774">147</text><text class="l r" transform="translate(496,779) rotate(-90)">Авида</text></g>
<g id="n148"><rect class="b" x="505" y="763" width="21" height="14"/><text class="n" x="515.5" y="774">148</text><text class="l r" transform="translate(518,779) rotate(-90)">Элдаа</text></g>
<g id="n149"><rect class="b" x="530" y="763" width="21" height="14"/><text class="n" x="540.5" y="774">149</text><text class="l r" transform="translate(543.5,779) rotate(-90)">Хори</text></g>
<g id="n150"><rect class="b" x="554" y="763" width="21" height="14"/><text class="n" x="564.5" y="774">150</text><text class="l r" transform="translate(567,779) rotate(-90)">Эймам</text></g>
<g id="n151"><rect class="b" x="583" y="763" width="21" height="14"/><text class="n" x="593.5" y="774">151</text><text class="l r" transform="translate(595,779) rotate(-90)">Алван</text></g>
<g id="n152"><rect class="b" x="605" y="763" width="21" height="14"/><text class="n" x="615.5" y="774">152</text><text class="l r" transform="translate(619.5,779) rotate(-90)">Манахат</text></g>
<g id="n153"><rect class="b" x="628" y="763" width="21" height="14"/><text class="n" x="638.5" y="774">153</text><text class="l r" transform="translate(641,779) rotate(-90)">Эйвал</text></g>
<g id="n154"><rect class="b" x="653" y="763" width="21" height="14"/><text class="n" x="663.5" y="774">154</text><text class="l r" transform="translate(667,779) rotate(-90)">Шефо</text></g>
<g id="n155"><rect class="b" x="677" y="763" width="21" height="14"/><text class="n" x="687.5" y="774">155</text><text class="l r" transform="translate(688,779) rotate(-90)">Онам</text></g>
<g id="n156"><rect class="b" x="699" y="763" width="21" height="14"/><text class="n" x="709.5" y="774">156</text><text class="l r" transform="translate(712,779) rotate(-90)">Айя</text></g>
<g id="n157"><rect class="b" x="722" y="763" width="21" height="14"/><text class="n" x="732.5" y="774">157</text><text class="l r" transform="translate(730.5,779) rotate(-90)">Ана</text></g>
<g id="n158"><rect class="b" x="745" y="763" width="21" height="14"/><text class="n" x="755.5" y="774">158</text><text class="l r" transform="translate(758,779) rotate(-90)">Дишан</text></g>
<g id="n159"><rect class="b" x="759" y="853" width="21" height="14"/><text class="n" x="769.5" y="864">159</text><text class="l r" transform="translate(769.5,873) rotate(-90)">Хемдан</text></g>
<g id="n160"><rect class="b" x="782" y="853" width="21" height="14"/><text class="n" x="792.5" y="864">160</text><text class="l r" transform="translate(795.5,873) rotate(-90)">Эшбан</text></g>
<g id="n161"><rect class="b" x="804" y="853" width="21" height="14"/><text class="n" x="814.5" y="864">161</text><text class="l r" transform="translate(818,873) rotate(-90)">Итран</text></g>
<g id="n162"><rect class="b" x="828" y="853" width="21" height="14"/><text class="n" x="838.5" y="864">162</text><text class="l r" transform="translate(841,873) rotate(-90)">Херан</text></g>
<g id="n163"><rect class="b" x="789" y="780" width="21" height="14"/><text class="n" x="799.5" y="791">163</text><text class="l r" transform="translate(804.5,798) rotate(-90)">Билан</text></g>
<g id="n164"><rect class="b" x="813" y="780" width="21" height="14"/><text class="n" x="823.5" y="791">164</text><text class="l r" transform="translate(826,798) rotate(-90)">Зааван</text></g>
<g id="n165"><rect class="b" x="836" y="780" width="21" height="14"/><text class="n" x="846.5" y="791">165</text><text class="l r" transform="translate(850,798) rotate(-90)">Акан</text></g>
<g id="n166"><rect class="b" x="807" y="725" width="21" height="14"/><text class="n" x="817.5" y="736">166</text><text class="l r" transform="translate(813.5,741) rotate(-90)">Уц</text></g>
<g id="n167"><rect class="b" x="830" y="725" width="21" height="14"/><text class="n" x="840.5" y="736">167</text><text class="l r" transform="translate(836,741) rotate(-90)">Аран</text></g>
<g id="n168"><rect class="b" x="52" y="827" width="21" height="14"/><text class="n" x="62.5" y="838">168</text><text class="l" x="77" y="838">Арам</text></g>
<g id="n169"><rect class="b" x="173" y="825" width="21" height="14"/><text class="n" x="183.5" y="836">169</text><text class="l r" x="171" y="836">Лаван</text></g>
<g id="n170"><rect class="b" x="250" y="824" width="21" height="14"/><text class="n" x="260.5" y="835">170</text><text class="l r" x="248" y="835">Ривка</text></g>
<g id="n171"><rect class="b" x="294" y="822" width="21" height="14"/><text class="n" x="304.5" y="833">171</text><text class="l" x="276" y="820">Ицхак</text></g>
<g id="n172"><rect class="b" x="323" y="823" width="21" height="14"/><text class="n" x="333.5" y="834">172</text><text class="l" transform="translate(337,819) rotate(-90)">Египтянка</text></g>
<g id="n173"><rect class="b" x="355" y="823" width="21" height="14"/><text class="n" x="365.5" y="834">173</text><text class="l" transform="translate(358.5,819) rotate(-90)">Ишмаэль</text></g>
<g id="n174"><rect class="b" x="391" y="823" width="21" height="14"/><text class="n" x="401.5" y="834">174</text><text class="l r" transform="translate(403.5,838) rotate(-90)">Ашурим</text></g>
<g id="n175"><rect class="b" x="413" y="823" width="21" height="14"/><text class="n" x="423.5" y="834">175</text><text class="l r" transform="translate(426,838) rotate(-90)">Летушим</text></g>
<g id="n176"><rect class="b" x="436" y="823" width="21" height="14"/><text class="n" x="446.5" y="834">176</text><text class="l r" transform="translate(449.5,838) rotate(-90)">Леумим</text></g>
<g id="n177"><rect class="b" x="371" y="894" width="21" height="14"/><text class="n" x="381.5" y="905">177</text><text class="l r" transform="translate(383,913) rotate(-90)">Невайот</text></g>
<g id="n178"><rect class="b" x="393" y="894" width="21" height="14"/><text class="n" x="403.5" y="905">178</text><text class="l r" transform="translate(407,918) rotate(-90)">Кедар</text></g>
<g id="n179"><rect class="b" x="417" y="894" width="21" height="14"/><text class="n" x="427.5" y="905">179</text><text class="l r" transform="translate(429,913) rotate(-90)">Адбеэль</text></g>
<g id="n180"><rect class="b" x="439" y="894" width="21" height="14"/><text class="n" x="449.5" y="905">180</text><text class="l r" transform="translate(452,913) rotate(-90)">Мивсам</text></g>
<g id="n181"><rect class="b" x="461" y="894" width="21" height="14"/><text class="n" x="471.5" y="905">181</text><text class="l r" transform="translate(476,913) rotate(-90)">Мишма</text></g>
<g id="n182"><rect class="b" x="485" y="894" width="21" height="14"/><text class="n" x="495.5" y="905">182</text><text class="l r" transform="translate(499,913) rotate(-90)">Дума</text></g>
<g id="n183"><rect class="b" x="509" y="894" width="21" height="14"/><text class="n" x="519.5" y="905">183</text><text class="l r" transform="translate(523,913) rotate(-90)">Масса</text></g>
<g id="n184"><rect class="b" x="533" y="894" width="21" height="14"/><text class="n" x="543.5" y="905">184</text><text class="l r" transform="translate(546,913) rotate(-90)">Хадад</text></g>
<g id="n185"><rect class="b" x="555" y="894" width="21" height="14"/><text class="n" x="565.5" y="905">185</text><text class="l r" transform="translate(569.5,913) rotate(-90)">Тейма</text></g>
<g id="n186"><rect class="b" x="579" y="894" width="21" height="14"/><text class="n" x="589.5" y="905">186</text><text class="l r" transform="translate(593,913) rotate(-90)">Иетур</text></g>
<g id="n187"><rect class="b" x="602" y="894" width="21" height="14"/><text class="n" x="612.5" y="905">187</text><text class="l r" transform="translate(615.5,913) rotate(-90)">Нафиш</text></g>
<g id="n188"><rect class="b" x="624" y="894" width="21" height="14"/><text class="n" x="634.5" y="905">188</text><text class="l r" transform="translate(639,913) rotate(-90)">Кедма</text></g>
<g id="n189"><rect class="b" x="655" y="943" width="21" height="14"/><text class="n" x="665.5" y="954">189</text><text class="l r" x="651" y="955">Беэри</text></g>
<g id="n190"><rect class="b" x="709" y="942" width="21" height="14"/><text class="n" x="719.5" y="953">190</text><text class="l" x="678" y="949">Эйлон</text></g>
<g id="n191"><rect class="b" x="126" y="969" width="21" height="14"/><text class="n" x="136.5" y="980">191</text><text class="l" transform="translate(133.5,966) rotate(-90)">Лея</text></g>
<g id="n192"><rect class="b" x="155" y="969" width="21" height="14"/><text class="n" x="165.5" y="980">192</text><text class="l" transform="translate(174.5,966) rotate(-90)">Рахель</text></g>
<g id="n193"><rect class="b" x="188" y="969" width="21" height="14"/><text class="n" x="198.5" y="980">193</text><text class="l" transform="translate(202.5,966) rotate(-90)">Зилпа</text></g>
<g id="n194"><rect class="b" x="219" y="969" width="21" height="14"/><text class="n" x="229.5" y="980">194</text><text class="l" transform="translate(232.5,966) rotate(-90)">Била</text></g>
<g id="n195"><rect class="b" x="247" y="969" width="21" height="14"/><text class="n" x="257.5" y="980">195</text><text class="l" transform="translate(257.5,966) rotate(-90)">Яаков</text></g>
<g id="n196"><rect class="b" x="278" y="969" width="21" height="14"/><text class="n" x="288.5" y="980">196</text><text class="l" transform="translate(298.5,966) rotate(-90)">Эйсав</text></g>
<g id="n197"><rect class="b" x="357" y="968" width="21" height="14"/><text class="n" x="367.5" y="979">197</text><text class="l" transform="translate(350,966) rotate(-90)">Махалат</text><text class="l" transform="translate(361.5,966) rotate(-90)">(Басмат)</text></g>
<g id="n198"><rect class="b" x="655" y="968" width="21" height="14"/><text class="n" x="665.5" y="979">198</text><text class="l r" x="651" y="970">Иеудит</text></g>
<g id="n199"><rect class="b" x="709" y="968" width="21" height="14"/><text class="n" x="719.5" y="979">199</text><text class="l" x="682" y="961">Басмат</text><text class="l" x="682" y="973">(Ада)</text></g>
<g id="n200"><rect class="b" x="838" y="968" width="21" height="14"/><text class="n" x="848.5" y="979">200</text><text class="l" x="795" y="966">Ооливама</text></g>
<g id="n201"><rect class="b" x="5" y="1013" width="21" height="14"/><text class="n" x="15.5" y="1024">201</text><text class="l r" transform="translate(17,1030) rotate(-90)">Реувен</text></g>
<g id="n202"><rect class="b" x="27" y="1013" width="21" height="14"/><text class="n" x="37.5" y="1024">202</text><text class="l r" transform="translate(41,1030) rotate(-90)">Шимон</text></g>
<g id="n203"><rect class="b" x="51" y="1013" width="21" height="14"/><text class="n" x="61.5" y="1024">203</text><text class="l r" transform="translate(64,1034) rotate(-90)">Леви</text></g>
<g id="n204"><rect class="b" x="73" y="1013" width="21" height="14"/><text class="n" x="83.5" y="1024">204</text><text class="l r" transform="translate(87,1030) rotate(-90)">Иеуда</text></g>
<g id="n205"><rect class="b" x="97" y="1013" width="21" height="14"/><text class="n" x="107.5" y="1024">205</text><text class="l r" transform="translate(109.5,1030) rotate(-90)">Иссахар</text></g>
<g id="n206"><rect class="b" x="119" y="1013" width="21" height="14"/><text class="n" x="129.5" y="1024">206</text><text class="l r" transform="translate(133,1030) rotate(-90)">Звулун</text></g>
<g id="n207"><rect class="b" x="143" y="1013" width="21" height="14"/><text class="n" x="153.5" y="1024">207</text><text class="l r" transform="translate(154,1031) rotate(-90)">Дина</text></g>
<g id="n208"><rect class="b" x="166" y="1013" width="21" height="14"/><text class="n" x="176.5" y="1024">208</text><text class="l r" transform="translate(179,1031) rotate(-90)">Иосеф</text></g>
<g id="n209"><rect class="b" x="188" y="1013" width="21" height="14"/><text class="n" x="198.5" y="1024">209</text><text class="l r" transform="translate(201,1030) rotate(-90)">Биньямин</text></g>
<g id="n210"><rect class="b" x="212" y="1013" width="21" height="14"/><text class="n" x="222.5" y="1024">210</text><text class="l r" transform="translate(225,1031) rotate(-90)">Гад</text></g>
<g id="n211"><rect class="b" x="234" y="1013" width="21" height="14"/><text class="n" x="244.5" y="1024">211</text><text class="l r" transform="translate(248,1030) rotate(-90)">Ашер</text></g>
<g id="n212"><rect class="b" x="258" y="1013" width="21" height="14"/><text class="n" x="268.5" y="1024">212</text><text class="l r" transform="translate(271,1031) rotate(-90)">Дан</text></g>
<g id="n213"><rect class="b" x="281" y="1013" width="21" height="14"/><text class="n" x="291.5" y="1024">213</text><text class="l r" transform="translate(294,1030) rotate(-90)">Нафтали</text></g>
<g id="n214"><rect class="b" x="357" y="999" width="21" height="14"/><text class="n" x="367.5" y="1010">214</text><text class="l r" x="354" y="1008">Реуэль</text></g>
<g id="n215"><rect class="b" x="709" y="993" width="21" height="14"/><text class="n" x="719.5" y="1004">215</text><text class="l r" x="705" y="1004">Элифаз</text></g>
<g id="n216"><rect class="b" x="733" y="993" width="21" height="14"/><text class="n" x="743.5" y="1004">216</text><text class="l" x="757" y="1004">Тимна</text></g>
<g id="n217"><rect class="b" x="794" y="996" width="21" height="14"/><text class="n" x="804.5" y="1007">217</text><text class="l r" transform="translate(809.5,1014) rotate(-90)">Иеуш</text></g>
<g id="n218"><rect class="b" x="818" y="996" width="21" height="14"/><text class="n" x="828.5" y="1007">218</text><text class="l r" transform="translate(831,1014) rotate(-90)">Ялом</text></g>
<g id="n219"><rect class="b" x="840" y="996" width="21" height="14"/><text class="n" x="850.5" y="1007">219</text><text class="l r" transform="translate(853,1014) rotate(-90)">Корах</text></g>
<g id="n220"><rect class="b" x="323" y="1034" width="21" height="14"/><text class="n" x="333.5" y="1045">220</text><text class="l r" transform="translate(337,1054) rotate(-90)">Нахат</text></g>
<g id="n221"><rect class="b" x="347" y="1034" width="21" height="14"/><text class="n" x="357.5" y="1045">221</text><text class="l r" transform="translate(359.5,1054) rotate(-90)">Зерах</text></g>
<g id="n222"><rect class="b" x="370" y="1034" width="21" height="14"/><text class="n" x="380.5" y="1045">222</text><text class="l r" transform="translate(384,1054) rotate(-90)">Шама</text></g>
<g id="n223"><rect class="b" x="392" y="1034" width="21" height="14"/><text class="n" x="402.5" y="1045">223</text><text class="l r" transform="translate(405,1054) rotate(-90)">Мица</text></g>
<g id="n224"><rect class="b" x="614" y="1029" width="21" height="14"/><text class="n" x="624.5" y="1040">224</text><text class="l r" transform="translate(628,1048) rotate(-90)">Тейман</text></g>
<g id="n225"><rect class="b" x="638" y="1029" width="21" height="14"/><text class="n" x="648.5" y="1040">225</text><text class="l r" transform="translate(651,1048) rotate(-90)">Омар</text></g>
<g id="n226"><rect class="b" x="660" y="1029" width="21" height="14"/><text class="n" x="670.5" y="1040">226</text><text class="l r" transform="translate(674,1048) rotate(-90)">Цефо</text></g>
<g id="n227"><rect class="b" x="683" y="1029" width="21" height="14"/><text class="n" x="693.5" y="1040">227</text><text class="l r" transform="translate(697,1048) rotate(-90)">Гаатам</text></g>
<g id="n228"><rect class="b" x="706" y="1029" width="21" height="14"/><text class="n" x="716.5" y="1040">228</text><text class="l r" transform="translate(719.5,1048) rotate(-90)">Кназ</text></g>
<g id="n229"><rect class="b" x="733" y="1029" width="21" height="14"/><text class="n" x="743.5" y="1040">229</text><text class="l r" transform="translate(743,1048) rotate(-90)">Амалек</text></g>
</svg>
